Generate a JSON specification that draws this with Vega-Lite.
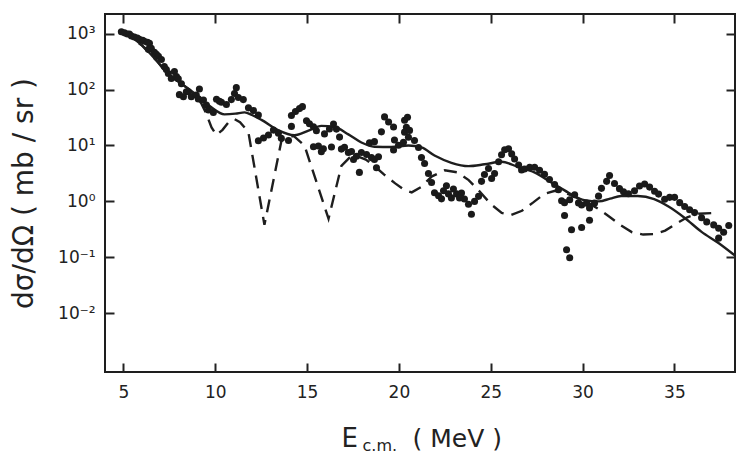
{
  "$schema": "https://vega.github.io/schema/vega-lite/v6.json",
  "width": 630,
  "height": 358,
  "autosize": {"type": "none"},
  "padding": {"left": 105, "top": 14, "right": 6, "bottom": 85},
  "background": "white",
  "config": {
    "view": {"stroke": "#1e1e1e", "strokeWidth": 2},
    "font": "DejaVu Sans",
    "axis": {"labelFont": "DejaVu Sans", "titleFont": "DejaVu Sans", "labelColor": "#222", "titleColor": "#222", "titleFontWeight": "normal", "tickColor": "#222", "tickWidth": 2, "grid": false, "domain": false}
  },
  "datasets": {
    "pts": [
      {"E":4.89,"s":1075},{"E":5.06,"s":1030},{"E":5.22,"s":985},{"E":5.33,"s":985},{"E":5.44,"s":906},{"E":5.6,"s":867},{"E":5.76,"s":832},{"E":5.87,"s":795},{"E":6.05,"s":762},{"E":6.14,"s":731},{"E":6.31,"s":702},{"E":6.42,"s":671},{"E":6.36,"s":525},{"E":6.52,"s":546},{"E":6.69,"s":462},{"E":6.8,"s":425},{"E":6.91,"s":391},{"E":7.07,"s":345},{"E":7.23,"s":258},{"E":7.34,"s":228},{"E":7.45,"s":193},{"E":7.61,"s":157},{"E":7.78,"s":209},{"E":7.89,"s":170},{"E":7.99,"s":156},{"E":8.16,"s":127},{"E":8.27,"s":74},{"E":8.05,"s":81},{"E":8.43,"s":91},{"E":8.54,"s":91},{"E":8.7,"s":74},{"E":8.97,"s":80},{"E":9.14,"s":102},{"E":9.08,"s":68},{"E":9.36,"s":65},{"E":9.52,"s":53},{"E":9.63,"s":43},{"E":9.9,"s":39},{"E":10.07,"s":67},{"E":10.23,"s":61.5},{"E":10.34,"s":59},{"E":10.61,"s":54},{"E":10.88,"s":66},{"E":11.05,"s":85},{"E":11.15,"s":108},{"E":11.26,"s":72},{"E":11.53,"s":66},{"E":11.81,"s":47},{"E":12.08,"s":42},{"E":12.35,"s":35},
      {"E":12.35,"s":12.1},{"E":12.63,"s":13.6},{"E":12.9,"s":15.4},{"E":13.17,"s":18.8},{"E":13.44,"s":16.6},{"E":13.6,"s":13.4},{"E":13.99,"s":12.3},{"E":14.15,"s":21.9},{"E":14.15,"s":34.4},{"E":14.37,"s":40.4},{"E":14.59,"s":45.6},{"E":14.75,"s":49.4},{"E":14.97,"s":27.7},{"E":15.13,"s":24.4},{"E":15.35,"s":21.6},{"E":15.51,"s":18.3},{"E":15.62,"s":9.8},{"E":15.89,"s":8.7},{"E":15.35,"s":9.5},{"E":15.78,"s":7.7},{"E":15.95,"s":16.1},{"E":16.22,"s":19.7},{"E":16.44,"s":24.1},{"E":16.6,"s":19.6},{"E":16.77,"s":14.1},{"E":16.87,"s":8.6},{"E":17.04,"s":9.3},{"E":17.25,"s":7.5},{"E":17.42,"s":7.8},{"E":17.69,"s":6.4},{"E":17.96,"s":7.5},{"E":18.24,"s":6.9},{"E":18.51,"s":6.05},{"E":18.67,"s":5.6},{"E":18.89,"s":6.3},{"E":17.85,"s":3.3},{"E":18.78,"s":4.0},{"E":18.4,"s":11.2},{"E":18.67,"s":11.7},{"E":19.05,"s":17.5},{"E":19.22,"s":32.4},{"E":19.44,"s":26.3},{"E":19.71,"s":21.3},{"E":19.76,"s":12.5},{"E":19.98,"s":10.1},{"E":19.71,"s":8.3},{"E":20.31,"s":28.2},{"E":20.41,"s":21.1},{"E":20.31,"s":17.3},{"E":20.25,"s":11.4},{"E":16.33,"s":9.4},{"E":17.53,"s":5.6},
      {"E":20.47,"s":31.9},{"E":20.58,"s":18.6},{"E":20.52,"s":14},{"E":20.85,"s":12.3},{"E":21.07,"s":9.2},{"E":21.23,"s":6.1},{"E":21.4,"s":4.75},{"E":21.61,"s":3.14},{"E":21.78,"s":2.17},{"E":21.94,"s":1.43},{"E":22.16,"s":1.26},{"E":22.43,"s":1.55},{"E":22.7,"s":1.36},{"E":22.86,"s":1.155},{"E":23.14,"s":1.36},{"E":23.41,"s":1.41},{"E":23.57,"s":1.1},{"E":23.79,"s":0.89},{"E":23.95,"s":0.59},{"E":24.12,"s":1.0},{"E":24.34,"s":1.23},{"E":24.5,"s":2.28},{"E":24.66,"s":3.03},{"E":24.88,"s":3.87},{"E":25.05,"s":2.56},{"E":25.21,"s":3.14},{"E":25.43,"s":5.13},{"E":25.59,"s":6.8},{"E":25.76,"s":8.4},{"E":25.97,"s":8.7},{"E":26.14,"s":7.06},{"E":26.3,"s":5.74},{"E":26.52,"s":4.47},{"E":26.68,"s":3.63},{"E":26.84,"s":3.78},{"E":27.12,"s":4.09},{"E":27.39,"s":4.08},{"E":27.66,"s":3.59},{"E":27.93,"s":3.04},{"E":28.2,"s":2.46},{"E":28.48,"s":2.0},{"E":28.69,"s":1.62},{"E":28.86,"s":1.03},{"E":29.02,"s":0.95},{"E":29.3,"s":1.07},{"E":29.57,"s":1.31},{"E":29.78,"s":0.94},{"E":29.95,"s":0.86},{"E":30.22,"s":0.93},{"E":30.38,"s":0.76},{"E":30.65,"s":0.93},{"E":30.87,"s":1.24},{"E":31.03,"s":1.71},{"E":31.31,"s":2.28},{"E":31.47,"s":2.91},{"E":31.74,"s":2.09},{"E":32.01,"s":1.69},{"E":32.23,"s":1.49},{"E":32.5,"s":1.37},{"E":32.83,"s":1.55},{"E":33.1,"s":1.89},{"E":33.38,"s":2.05},{"E":33.65,"s":1.8},{"E":33.92,"s":1.52},{"E":34.14,"s":1.35},{"E":34.47,"s":1.09},{"E":34.74,"s":1.18},{"E":35.01,"s":1.18},{"E":35.29,"s":0.95},{"E":35.56,"s":0.81},{"E":35.83,"s":0.71},{"E":36.1,"s":0.63},{"E":36.48,"s":0.51},{"E":36.76,"s":0.43},{"E":37.14,"s":0.38},{"E":37.41,"s":0.33},{"E":37.68,"s":0.28},{"E":37.96,"s":0.37},{"E":37.41,"s":0.22},
      {"E":29.02,"s":0.56},{"E":29.4,"s":0.31},{"E":29.95,"s":0.34},{"E":30.38,"s":0.46},{"E":29.13,"s":0.137},{"E":29.3,"s":0.098},
      {"E":22.59,"s":1.9},{"E":22.97,"s":1.67},{"E":23.3,"s":1.15},{"E":22.32,"s":1.11}
    ],
    "solid": [
      {"E":4.85,"s":1080},{"E":5.05,"s":1030},{"E":6.0,"s":620},{"E":6.8,"s":330},{"E":7.45,"s":186},{"E":8.0,"s":138},{"E":8.54,"s":103},{"E":9.2,"s":70},{"E":9.79,"s":48},{"E":10.5,"s":36},{"E":11.1,"s":37},{"E":11.6,"s":39},{"E":12.0,"s":35},{"E":12.52,"s":28.6},{"E":13.44,"s":18.6},{"E":14.31,"s":15.2},{"E":15.08,"s":18.4},{"E":15.78,"s":22.4},{"E":16.49,"s":21.4},{"E":17.25,"s":15.8},{"E":17.96,"s":11.3},{"E":18.67,"s":9.5},{"E":19.6,"s":9.4},{"E":20.52,"s":10},{"E":21.23,"s":9.2},{"E":21.94,"s":6.6},{"E":22.86,"s":4.9},{"E":23.79,"s":4.27},{"E":24.66,"s":4.6},{"E":25.59,"s":5.1},{"E":26.51,"s":4.1},{"E":27.38,"s":3.3},{"E":28.3,"s":2.18},{"E":29.24,"s":1.43},{"E":30.1,"s":1.05},{"E":30.9,"s":1.0},{"E":31.5,"s":1.12},{"E":32.1,"s":1.25},{"E":33.0,"s":1.25},{"E":33.9,"s":1.1},{"E":34.68,"s":0.81},{"E":35.55,"s":0.51},{"E":36.48,"s":0.285},{"E":37.4,"s":0.18},{"E":38.27,"s":0.109}
    ],
    "dashed": [
      {"E":4.89,"s":1075},{"E":5.06,"s":1030},{"E":6.0,"s":620},{"E":6.8,"s":330},{"E":7.45,"s":186},{"E":8.0,"s":138},{"E":8.54,"s":103},{"E":9.0,"s":72},{"E":9.25,"s":56},{"E":9.5,"s":38},{"E":9.8,"s":21},{"E":10.07,"s":15.4},{"E":10.4,"s":19},{"E":10.75,"s":26.5},{"E":11.05,"s":29.5},{"E":11.35,"s":26},{"E":11.6,"s":21},{"E":11.81,"s":17},{"E":12.68,"s":0.38},{"E":13.6,"s":11.9},{"E":13.95,"s":14.5},{"E":14.3,"s":14.5},{"E":14.86,"s":10},{"E":16.17,"s":0.49},{"E":16.87,"s":4.3},{"E":17.3,"s":6.0},{"E":17.7,"s":6.5},{"E":18.2,"s":5.6},{"E":18.7,"s":4.2},{"E":19.2,"s":3.0},{"E":19.8,"s":2.1},{"E":20.3,"s":1.6},{"E":20.7,"s":1.45},{"E":21.2,"s":1.8},{"E":21.8,"s":2.8},{"E":22.5,"s":3.6},{"E":23.2,"s":3.3},{"E":23.8,"s":2.4},{"E":24.4,"s":1.5},{"E":25.0,"s":0.9},{"E":25.6,"s":0.62},{"E":26.1,"s":0.57},{"E":26.7,"s":0.68},{"E":27.3,"s":0.95},{"E":27.9,"s":1.35},{"E":28.5,"s":1.55},{"E":29.1,"s":1.4},{"E":29.7,"s":1.15},{"E":30.3,"s":0.94},{"E":30.9,"s":0.72},{"E":31.5,"s":0.52},{"E":32.1,"s":0.37},{"E":32.7,"s":0.28},{"E":33.3,"s":0.255},{"E":33.9,"s":0.26},{"E":34.5,"s":0.3},{"E":35.1,"s":0.4},{"E":35.7,"s":0.52},{"E":36.3,"s":0.6},{"E":37.1,"s":0.62}
    ]
  },
  "layer": [
    {
      "data": {"name": "dashed"},
      "mark": {"type": "line", "color": "#1e1e1e", "strokeWidth": 2.4, "strokeDash": [13, 8], "clip": true},
      "encoding": {
        "x": {"field": "E", "type": "quantitative", "scale": {"domain": [4.0, 38.3], "nice": false, "zero": false}, "axis": null},
        "y": {"field": "s", "type": "quantitative", "scale": {"type": "log", "domain": [0.00089, 2240], "nice": false}, "axis": null}
      }
    },
    {
      "data": {"name": "solid"},
      "mark": {"type": "line", "color": "#1e1e1e", "strokeWidth": 2.4, "interpolate": "monotone", "clip": true},
      "encoding": {
        "x": {"field": "E", "type": "quantitative", "scale": {"domain": [4.0, 38.3], "nice": false, "zero": false},
          "axis": {"orient": "top", "values": [5, 10, 15, 20, 25, 30, 35], "labels": false, "tickSize": -9, "title": "c.m.", "titleFontSize": 16, "titleAngle": 0, "titleAlign": "left", "titleBaseline": "alphabetic", "titleX": 257, "titleY": 436}},
        "y": {"field": "s", "type": "quantitative", "scale": {"type": "log", "domain": [0.00089, 2240], "nice": false},
          "axis": {"orient": "right", "values": [0.01, 0.1, 1, 10, 100, 1000], "labels": false, "tickSize": -9, "title": "( MeV )", "titleFontSize": 25, "titleAngle": 0, "titleAlign": "left", "titleBaseline": "alphabetic", "titleX": -323, "titleY": 432}}
      }
    },
    {
      "data": {"name": "pts"},
      "mark": {"type": "circle", "color": "#1a1a1a", "opacity": 1, "size": 50, "clip": true},
      "encoding": {
        "x": {"field": "E", "type": "quantitative", "scale": {"domain": [4.0, 38.3], "nice": false, "zero": false},
          "axis": {"orient": "bottom", "values": [5, 10, 15, 20, 25, 30, 35], "tickSize": -9, "labelFontSize": 17, "labelPadding": 21, "title": "E", "titleFontSize": 26, "titleAngle": 0, "titleAlign": "left", "titleBaseline": "alphabetic", "titleX": 236, "titleY": 74}},
        "y": {"field": "s", "type": "quantitative", "scale": {"type": "log", "domain": [0.00089, 2240], "nice": false},
          "axis": {"orient": "left", "values": [0.01, 0.1, 1, 10, 100, 1000], "tickSize": -9, "labelFontSize": 17, "labelPadding": 19,
            "labelExpr": "datum.value >= 999 ? '10³' : datum.value >= 99 ? '10²' : datum.value >= 9 ? '10¹' : datum.value >= 0.9 ? '10⁰' : datum.value >= 0.09 ? '10⁻¹' : '10⁻²'",
            "title": "dσ/dΩ  ( mb / sr )", "titleFontSize": 28, "titleAngle": -90, "titleAlign": "center", "titleBaseline": "alphabetic", "titleX": -73, "titleY": 179}}
      }
    }
  ],
  "resolve": {"axis": {"x": "independent", "y": "independent"}}
}
